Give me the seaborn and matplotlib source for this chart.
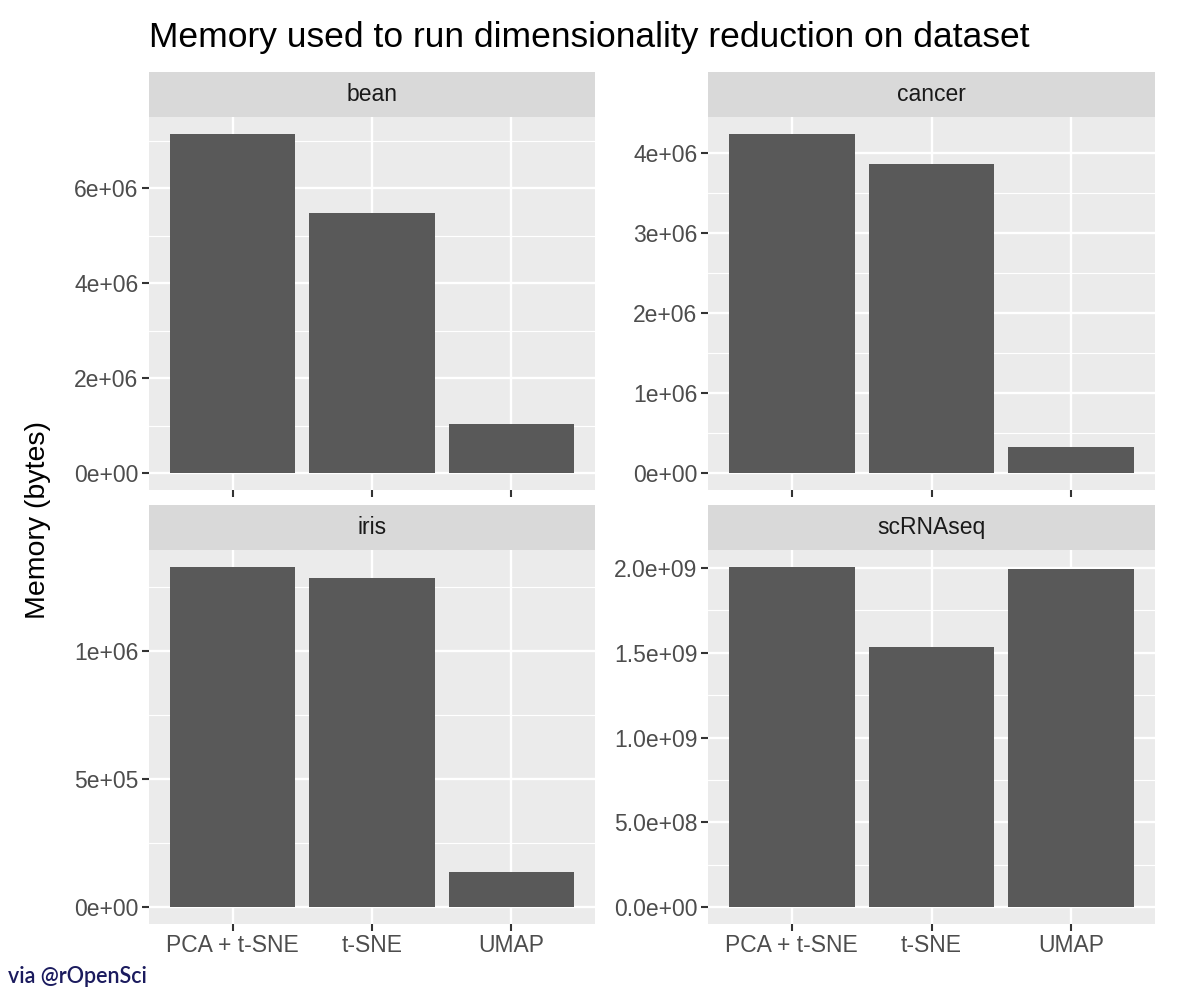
import numpy as np
import pandas as pd
import matplotlib
matplotlib.use("Agg")
import matplotlib.pyplot as plt
import seaborn as sns
from matplotlib.ticker import FixedLocator, AutoMinorLocator

# ---------- datos ----------
datasets = ["bean", "cancer", "iris", "scRNAseq"]
methods = ["PCA + t-SNE", "t-SNE", "UMAP"]
mem_bean = [7.14e6, 5.47e6, 1.03e6]
mem_cancer = [4.24e6, 3.86e6, 0.325e6]
mem_iris = [1.33e6, 1.286e6, 0.137e6]
mem_scrna = [2.006e9, 1.533e9, 1.994e9]

ticks_bean = [0, 2e6, 4e6, 6e6]
labels_bean = ["0e+00", "2e+06", "4e+06", "6e+06"]
ticks_cancer = [0, 1e6, 2e6, 3e6, 4e6]
labels_cancer = ["0e+00", "1e+06", "2e+06", "3e+06", "4e+06"]
ticks_iris = [0, 5e5, 1e6]
labels_iris = ["0e+00", "5e+05", "1e+06"]
ticks_scrna = [0, 5e8, 1e9, 1.5e9, 2e9]
labels_scrna = ["0.0e+00", "5.0e+08", "1.0e+09", "1.5e+09", "2.0e+09"]

df = pd.DataFrame({
    "dataset": np.repeat(datasets, len(methods)),
    "method": methods * len(datasets),
    "memory": mem_bean + mem_cancer + mem_iris + mem_scrna,
})
ticks = {"bean": (ticks_bean, labels_bean), "cancer": (ticks_cancer, labels_cancer),
         "iris": (ticks_iris, labels_iris), "scRNAseq": (ticks_scrna, labels_scrna)}

# ---------- figura ----------
sns.set_theme(style="white")
plt.rcParams['font.family'] = ['Liberation Sans', 'DejaVu Sans']
W, H = 1200, 996
fig = plt.figure(figsize=(12, 9.96), dpi=100)

def px_axes(x0, y0, x1, y1):
    return fig.add_axes([x0 / W, 1 - y1 / H, (x1 - x0) / W, (y1 - y0) / H])

layout = {"bean": (149, 595, 72, 117, 490, False),
          "cancer": (708, 1155, 72, 117, 490, False),
          "iris": (149, 595, 505, 550, 924, True),
          "scRNAseq": (708, 1155, 505, 550, 924, True)}

for name in datasets:
    x0, x1, ys, yp, yb, show_x = layout[name]
    sub = df[df["dataset"] == name]
    ax = px_axes(x0, yp, x1, yb)
    ax.set_facecolor("#EBEBEB")
    sns.barplot(data=sub, x="method", y="memory", order=methods, color="#595959",
                width=0.9, saturation=1, linewidth=0, edgecolor="none", ax=ax, zorder=3)
    ymax = sub["memory"].max()
    ax.set_xlim(-0.6, 2.6)
    ax.set_ylim(-0.05 * ymax, 1.05 * ymax)
    tv, tl = ticks[name]
    ax.yaxis.set_major_locator(FixedLocator(tv))
    ax.set_yticklabels(tl)
    ax.yaxis.set_minor_locator(AutoMinorLocator(2))
    ax.grid(which="major", color="white", linewidth=1.7, zorder=0)
    ax.grid(which="minor", axis="y", color="white", linewidth=0.85, zorder=0)
    ax.set_axisbelow(True)
    for s in ax.spines.values():
        s.set_visible(False)
    ax.tick_params(axis="both", which="major", length=5, width=1.5, color="#333333",
                   labelsize=16.5, labelcolor="#4D4D4D", pad=2.5, left=True, bottom=True)
    ax.tick_params(axis="y", which="minor", length=0)
    if not show_x:
        ax.set_xticklabels([])
    ax.set_xlabel("")
    ax.set_ylabel("")

    st = px_axes(x0, ys, x1, yp)
    st.set_facecolor("#D9D9D9")
    st.set_xticks([]); st.set_yticks([])
    for s in st.spines.values():
        s.set_visible(False)
    st.text(0.5, 0.5, name, ha="center", va="center", fontsize=16.5, color="#1A1A1A",
            transform=st.transAxes)

fig.text(149 / W, 1 - 37 / H, "Memory used to run dimensionality reduction on dataset",
         ha="left", va="center", fontsize=25.5, color="black")
fig.text(38 / W, 1 - 520 / H, "Memory (bytes)", rotation=90, ha="center", va="center",
         fontsize=20.5, color="black")
fig.text(8 / W, 1 - 976 / H, "via @rOpenSci", ha="left", va="center", fontsize=15.5,
         color="#1B1B5E", family=["Lato", "DejaVu Sans"], fontweight="semibold")

fig.savefig("out.png", dpi=100)
